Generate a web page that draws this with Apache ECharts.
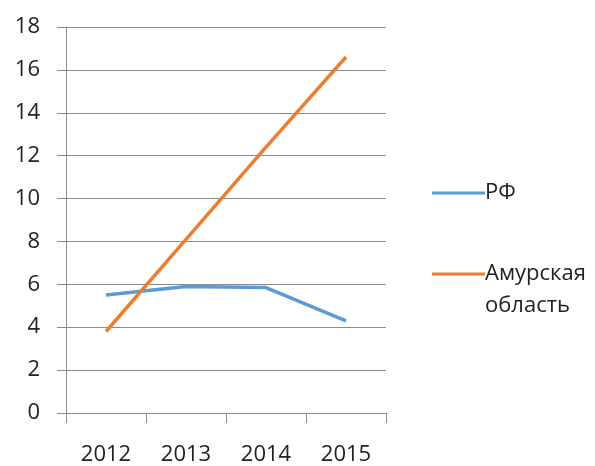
<!DOCTYPE html>
<html>
<head>
<meta charset="utf-8">
<script src="https://cdn.jsdelivr.net/npm/echarts@6/dist/echarts.min.js"></script>
<style>
  html, body { margin: 0; padding: 0; background: #fff; }
  #chart { width: 595px; height: 466px; }
</style>
</head>
<body>
<div id="chart"></div>
<script>
// Years on the category axis
const years = ['2012', '2013', '2014', '2015'];
// Russian Federation
const rfValues = [5.5, 5.9, 5.85, 4.3];
// Amur region
const amurValues = [3.8, 8.1, 12.4, 16.6];
// Value axis ticks
const yTicks = [0, 2, 4, 6, 8, 10, 12, 14, 16, 18];

const seriesNames = ['РФ', 'Амурская область'];
const FONT = '"Open Sans", "Noto Sans", sans-serif';
const gray = '#8c8c8c';

const chart = echarts.init(document.getElementById('chart'), null, { renderer: 'canvas' });

chart.setOption({
  animation: false,
  backgroundColor: '#ffffff',
  grid: { left: 66, right: 209, top: 27, bottom: 52, containLabel: false },
  legend: [
    {
      data: [seriesNames[0]],
      left: 427, top: 177,
      icon: 'rect', itemWidth: 53, itemHeight: 3, itemGap: 0,
      textStyle: { fontFamily: FONT, fontSize: 22, color: '#222', padding: [0, 0, 0, -5] }
    },
    {
      data: [seriesNames[1]],
      left: 427, top: 221,
      icon: 'rect', itemWidth: 53, itemHeight: 3, itemGap: 0,
      formatter: () => '\nАмурская\nобласть',
      textStyle: { fontFamily: FONT, fontSize: 22, lineHeight: 32, color: '#222', padding: [0, 0, 0, -5] }
    }
  ],
  xAxis: {
    type: 'category',
    data: years,
    boundaryGap: true,
    axisLine: { show: true, lineStyle: { color: gray, width: 1 } },
    axisTick: { show: true, length: 10, lineStyle: { color: gray } },
    axisLabel: { fontFamily: FONT, fontSize: 22, color: '#222', margin: 31 },
    splitLine: { show: false }
  },
  yAxis: {
    type: 'value',
    min: yTicks[0],
    max: yTicks[yTicks.length - 1],
    interval: yTicks[1] - yTicks[0],
    axisLine: { show: true, lineStyle: { color: gray, width: 1 } },
    axisTick: { show: true, length: 9, lineStyle: { color: gray } },
    axisLabel: { fontFamily: FONT, fontSize: 22, color: '#222', margin: 26 },
    splitLine: { show: true, lineStyle: { color: gray, width: 1 } }
  },
  series: [
    {
      name: seriesNames[0],
      type: 'line',
      data: rfValues,
      symbol: 'none',
      lineStyle: { color: '#5b9bd5', width: 3.5 },
      itemStyle: { color: '#5b9bd5' }
    },
    {
      name: seriesNames[1],
      type: 'line',
      data: amurValues,
      symbol: 'none',
      lineStyle: { color: '#ed7d31', width: 3.5 },
      itemStyle: { color: '#ed7d31' }
    }
  ]
});
</script>
</body>
</html>
